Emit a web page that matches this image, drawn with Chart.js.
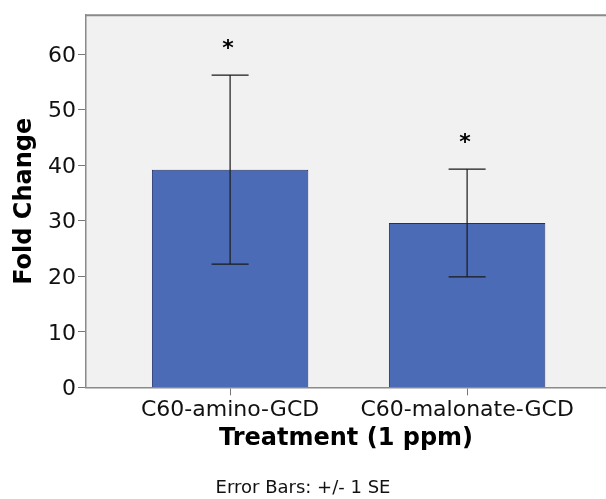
<!DOCTYPE html>
<html>
<head>
<meta charset="utf-8">
<script src="https://cdn.jsdelivr.net/npm/chart.js@4"></script>
<style>
html, body { margin: 0; padding: 0; background: #fff; overflow: hidden; }
</style>
</head>
<body>
<canvas id="chart1" width="606" height="499"></canvas>
<script>
// data
const categories = ['C60-amino-GCD', 'C60-malonate-GCD'];
const xPositions = [1, 2];
const foldChange = [39.2, 29.6];
const stdErr = [17.0, 9.7];
const sigMarks = ['*', '*'];
const yTicks = [0, 10, 20, 30, 40, 50, 60];

Chart.defaults.font.family = "'DejaVu Sans', sans-serif";

// grey plot background + top frame line
const plotFrame = {
	id: 'plotFrame',
	beforeDraw(chart) {
		const a = chart.chartArea, ctx = chart.ctx;
		ctx.save();
		ctx.fillStyle = '#f1f1f1';
		ctx.fillRect(a.left, a.top, a.right - a.left, a.bottom - a.top);
		ctx.restore();
	},
	afterDraw(chart) {
		const a = chart.chartArea, ctx = chart.ctx;
		ctx.save();
		ctx.strokeStyle = '#8a8a8a';
		ctx.lineWidth = 2;
		ctx.beginPath();
		ctx.moveTo(a.left, a.top);
		ctx.lineTo(a.right, a.top);
		ctx.stroke();
		ctx.restore();
	}
};

// +/- 1 SE whiskers and the significance stars
const errorBars = {
	id: 'errorBars',
	afterDatasetsDraw(chart) {
		const ctx = chart.ctx, y = chart.scales.y;
		const meta = chart.getDatasetMeta(0);
		ctx.save();
		meta.data.forEach((bar, i) => {
			const hi = y.getPixelForValue(foldChange[i] + stdErr[i]);
			const lo = y.getPixelForValue(foldChange[i] - stdErr[i]);
			ctx.strokeStyle = '#1a1a1a';
			ctx.lineWidth = 1.2;
			ctx.beginPath();
			ctx.moveTo(bar.x, hi); ctx.lineTo(bar.x, lo);
			ctx.moveTo(bar.x - 18.5, hi); ctx.lineTo(bar.x + 18.5, hi);
			ctx.moveTo(bar.x - 18.5, lo); ctx.lineTo(bar.x + 18.5, lo);
			ctx.stroke();
			ctx.fillStyle = '#000';
			ctx.font = "bold 22px 'DejaVu Sans'";
			ctx.textAlign = 'center';
			ctx.textBaseline = 'middle';
			ctx.fillText(sigMarks[i], bar.x - 2, hi - 26);
		});
		ctx.restore();
	}
};

new Chart(document.getElementById('chart1'), {
	type: 'bar',
	data: {
		datasets: [{
			data: xPositions.map((x, i) => ({ x: x, y: foldChange[i] })),
			backgroundColor: '#4b6bb7',
			borderColor: '#22306a',
			borderWidth: 1,
			barPercentage: 0.66,
			categoryPercentage: 1
		}]
	},
	options: {
		responsive: false,
		animation: false,
		layout: { padding: { top: 14, left: 0, right: 0, bottom: 0 } },
		plugins: {
			legend: { display: false },
			tooltip: { enabled: false },
			subtitle: {
				display: true,
				position: 'bottom',
				text: 'Error Bars: +/- 1 SE',
				color: '#111',
				font: { size: 18, weight: 'normal' },
				padding: { top: 0, bottom: 0 }
			}
		},
		scales: {
			x: {
				type: 'linear',
				min: 0.392,
				max: 2.586,
				offset: false,
				grid: { drawOnChartArea: false, offset: false, tickLength: 8, color: '#777' },
				border: { color: '#8a8a8a', width: 1.5 },
				afterBuildTicks: s => { s.ticks = xPositions.map(v => ({ value: v })); },
				afterFit: s => { s.height = 90; },
				ticks: {
					padding: 2, color: '#111', font: { size: 22 },
					maxRotation: 0, autoSkip: false,
					callback: v => categories[xPositions.indexOf(v)]
				},
				title: {
					display: true, text: 'Treatment (1 ppm)', color: '#000',
					font: { size: 24, weight: 'bold' }, padding: { top: 0, bottom: 24 }
				}
			},
			y: {
				min: 0,
				max: 67,
				grid: { drawOnChartArea: false, tickLength: 8, color: '#777' },
				border: { color: '#8a8a8a', width: 1.5 },
				afterBuildTicks: s => { s.ticks = yTicks.map(v => ({ value: v })); },
				afterFit: s => { s.width = 86; },
				ticks: { padding: 2, labelOffset: 2, color: '#111', font: { size: 22 } },
				title: {
					display: true, text: 'Fold Change', color: '#000',
					font: { size: 24, weight: 'bold' }, padding: { top: 10, bottom: 0 }
				}
			}
		}
	},
	plugins: [plotFrame, errorBars]
});
</script>
</body>
</html>
